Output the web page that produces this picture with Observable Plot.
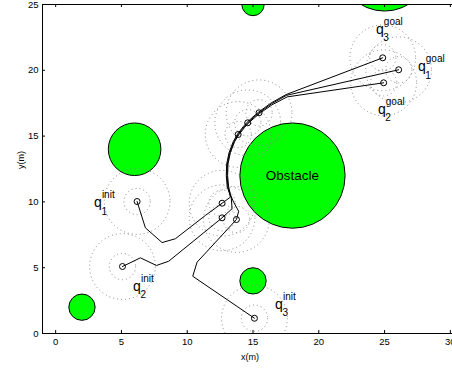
<!DOCTYPE html>
<html><head><meta charset="utf-8">
<script src="https://cdn.jsdelivr.net/npm/d3@7"></script>
<script src="https://cdn.jsdelivr.net/npm/@observablehq/plot@0.6"></script>
<style>
html,body{margin:0;padding:0;background:#fff;overflow:hidden;}
</style></head><body><div id="chart"></div>
<script>
const xTicks = [0, 5, 10, 15, 20, 25, 30];
const yTicks = [0, 5, 10, 15, 20, 25];

// obstacles (center, radius)
const obstacleX = [2, 6, 18, 15, 15, 25];
const obstacleY = [2, 14, 12, 4, 25, 28];
const obstacleR = [1, 2, 4, 1, 0.85, 3.5];
const obstacleName = ["", "", "Obstacle", "", "", ""];

// robot configurations drawn as markers
const markerX = [6.19, 5.08, 15.11, 24.86, 26.07, 24.93, 12.65, 12.65, 13.74, 13.87, 14.60, 15.46];
const markerY = [10.03, 5.09, 1.16, 20.95, 20.04, 19.05, 9.90, 8.79, 8.66, 15.12, 16.01, 16.77];
const rangeRadii = [1, 2.5];

// trajectories
const path1X = [6.19, 6.82, 8.09, 9.10, 11.38, 12.65, 13.28, 13.10, 13.02, 13.05, 13.23, 13.56, 13.87, 14.31, 14.60, 15.05, 15.46, 16.40, 17.55, 26.07];
const path1Y = [10.03, 8.03, 6.91, 7.20, 8.97, 9.90, 10.36, 11.13, 12.00, 12.88, 13.74, 14.58, 15.12, 15.69, 16.01, 16.42, 16.77, 17.45, 18.10, 20.04];
const path2X = [5.08, 6.44, 7.66, 8.59, 12.65, 13.41, 13.35, 13.15, 13.07, 13.10, 13.28, 13.60, 13.92, 14.36, 14.65, 15.10, 15.50, 16.45, 17.60, 24.93];
const path2Y = [5.09, 5.75, 5.17, 5.49, 8.79, 9.48, 10.30, 11.13, 12.00, 12.88, 13.74, 14.58, 15.10, 15.66, 15.98, 16.38, 16.72, 17.38, 17.98, 19.05];
const path3X = [15.11, 10.42, 10.75, 13.74, 13.91, 13.53, 13.25, 13.04, 12.97, 13.00, 13.18, 13.50, 13.82, 14.26, 14.55, 15.00, 15.42, 16.35, 17.50, 24.86];
const path3Y = [1.16, 4.35, 5.42, 8.66, 9.29, 9.98, 10.60, 11.13, 12.00, 12.88, 13.74, 14.58, 15.15, 15.72, 16.05, 16.46, 16.82, 17.50, 18.15, 20.95];

// labels q_i^{init/goal}
const labelX = [3.21, 6.18, 16.97, 24.64, 27.83, 24.79];
const labelY = [9.75, 3.42, 2.05, 22.95, 20.10, 16.87];
const labelSup = ["init", "init", "init", "goal", "goal", "goal"];
const labelSub = ["1", "2", "3", "3", "1", "2"];

const pxPerUnit = 421 / 32;

const obstacles = obstacleX.map((x, i) => ({x, y: obstacleY[i], r: obstacleR[i], name: obstacleName[i]}));
const markers = markerX.map((x, i) => ({x, y: markerY[i]}));
const ranges = rangeRadii.flatMap(r => markers.map(m => ({x: m.x, y: m.y, r})));
const paths = [[path1X, path1Y], [path2X, path2Y], [path3X, path3Y]]
  .flatMap(([X, Y], k) => X.map((x, i) => ({x, y: Y[i], robot: k + 1})));
const labels = labelX.map((x, i) => ({x, y: labelY[i], sup: labelSup[i], sub: labelSub[i]}));

const chart = Plot.plot({
  width: 452,
  height: 369,
  marginLeft: 42,
  marginRight: -11,
  marginTop: 4,
  marginBottom: 36,
  style: {fontFamily: "'Liberation Sans', Arial, sans-serif", fontSize: "9.5px", background: "#fff", color: "#000"},
  x: {domain: [-1, 31], label: null},
  y: {domain: [0, 25], label: null},
  r: {type: "linear", domain: [0, 1], range: [0, pxPerUnit]},
  marks: [
    Plot.dot(obstacles, {x: "x", y: "y", r: "r", fill: "#00ff00", stroke: "#000", strokeWidth: 1, clip: true}),
    Plot.dot(ranges, {x: "x", y: "y", r: "r", fill: "none", stroke: "#8a8a8a", strokeWidth: 1, strokeDasharray: "1,3", clip: true}),
    Plot.text(obstacles.filter(d => d.name), {x: "x", y: "y", text: "name", fontSize: 13.5, fill: "#000"}),
    Plot.line(paths, {x: "x", y: "y", z: "robot", stroke: "#000", strokeWidth: 1}),
    Plot.dot(markers, {x: "x", y: "y", r: 3, stroke: "#000", fill: "none", strokeWidth: 1}),
    Plot.text(labels, {x: "x", y: "y", text: () => "q", fontSize: 14, dy: -2.3, fill: "#000"}),
    Plot.text(labels, {x: "x", y: "y", text: "sup", fontSize: 10, textAnchor: "start", dx: 4, dy: -10, fill: "#000"}),
    Plot.text(labels, {x: "x", y: "y", text: "sub", fontSize: 10, textAnchor: "start", dx: 3.5, dy: 6.5, fill: "#000"}),
    Plot.frame({stroke: "#000", strokeWidth: 1}),
    Plot.tickX(xTicks, {x: d => d, stroke: "#000", insetTop: 326}),
    Plot.tickX(xTicks, {x: d => d, stroke: "#000", insetBottom: 326}),
    Plot.tickY(yTicks, {y: d => d, stroke: "#000", insetRight: 418}),
    Plot.axisX({ticks: xTicks, tickSize: 0, tickPadding: 5, label: null, fill: "#000"}),
    Plot.axisY({ticks: yTicks, tickSize: 0, tickPadding: 4, label: null, fill: "#000"}),
    Plot.text(["x(m)"], {text: d => d, frameAnchor: "bottom", dx: -3, dy: 26, fontSize: 9, fill: "#000"}),
    Plot.text(["y(m)"], {text: d => d, frameAnchor: "left", dx: -21, rotate: -90, fontSize: 9, fill: "#000"})
  ]
});
document.getElementById("chart").appendChild(chart);
</script></body></html>
